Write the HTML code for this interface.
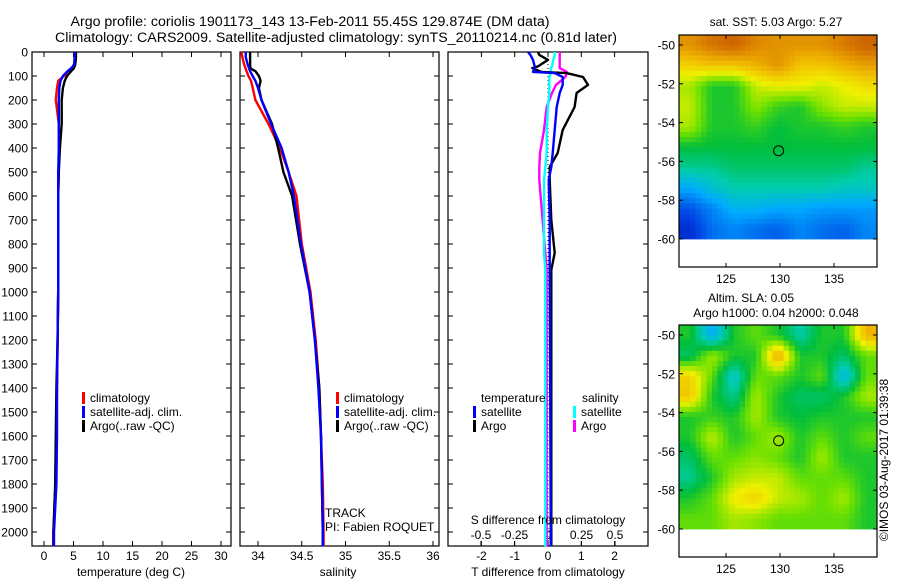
<!DOCTYPE html>
<html><head><meta charset="utf-8"><style>
html,body{margin:0;padding:0;background:#fff;}
svg{display:block;font-family:"Liberation Sans",sans-serif;}
</style></head><body>
<svg id="chart" width="900" height="580" viewBox="0 0 900 580" xmlns="http://www.w3.org/2000/svg">
<rect width="900" height="580" fill="#fff"/>
<text x="310" y="26" font-size="14.2" text-anchor="middle">Argo profile: coriolis 1901173_143 13-Feb-2011 55.45S 129.874E (DM data)</text>
<text x="336" y="42" font-size="14.2" text-anchor="middle">Climatology: CARS2009. Satellite-adjusted climatology: synTS_20110214.nc (0.81d later)</text>
<g id="g"></g>
</svg>
<script>
// ---------- data ----------
const depths = [0,20,50,60,70,80,100,120,150,200,300,400,500,600,800,1000,1200,1400,1600,1800,2000,2060];
const tempClim  = [5.4,5.4,5.3,5.0,4.6,4.0,3.4,2.4,2.2,2.0,2.5,2.5,2.5,2.4,2.4,2.4,2.3,2.2,2.1,2.0,1.6,1.6];
const tempSat   = [5.2,5.2,5.1,4.9,4.5,4.0,3.2,2.8,2.6,2.5,2.5,2.5,2.4,2.4,2.4,2.4,2.3,2.2,2.2,2.1,1.7,1.7];
const tempArgo  = [5.4,5.4,5.3,5.2,5.0,4.6,3.9,3.5,3.2,3.0,3.0,2.7,2.5,2.4,2.4,2.4,2.3,2.1,2.0,1.9,1.6,1.6];
const salClim   = [33.81,33.82,33.84,33.85,33.86,33.87,33.89,33.92,33.94,33.97,34.12,34.25,34.35,34.44,34.50,34.60,34.66,34.70,34.72,34.74,34.75,34.75];
const salSat    = [33.86,33.86,33.88,33.89,33.90,33.91,33.94,33.97,34.00,34.04,34.15,34.27,34.35,34.41,34.49,34.59,34.65,34.69,34.72,34.73,34.74,34.74];
const salArgo   = [33.91,33.91,33.91,33.91,33.92,33.97,34.01,34.03,34.01,34.04,34.16,34.23,34.29,34.39,34.48,34.59,34.65,34.70,34.72,34.73,34.74,34.74];
const dDepths   = [0,12,33,60,67,83,88,104,137,171,229,325,421,479,533,700,837,908,1200,1500,2000,2060];
const dTSat     = [-0.6,-0.53,-0.45,-0.4,-0.4,-0.45,0.2,0.44,0.44,0.35,0.26,0.2,0.14,0.1,0.02,0.05,0.05,0.05,0.06,0.07,0.08,0.08];
const dTArgo    = [-0.3,-0.26,0.0,-0.3,-0.47,-0.2,0.56,1.05,1.2,0.86,0.8,0.44,0.29,0.05,0.05,0.1,0.2,0.1,0.1,0.1,0.1,0.1];
const dSSat     = [0.05,0.05,0.04,0.03,0.02,0.02,0.02,0.01,0.01,0.01,0.0,-0.01,-0.01,-0.02,-0.03,-0.03,-0.03,-0.02,-0.02,-0.02,-0.02,-0.02];
const dSArgo    = [0.09,0.087,0.087,0.087,0.087,0.14,0.14,0.13,0.06,0.03,-0.01,-0.03,-0.06,-0.065,-0.065,-0.04,-0.02,-0.01,-0.01,-0.01,-0.01,-0.01];
const depthTicks = [0,100,200,300,400,500,600,700,800,900,1000,1100,1200,1300,1400,1500,1600,1700,1800,1900,2000];
const tempTicks = [0,5,10,15,20,25,30];
const salTicks = [34,34.5,35,35.5,36];
const salTickLabels = ["34","34.5","35","35.5","36"];
const dTTicks = [-2,-1,0,1,2];
const dSTicks = [-0.5,-0.25,0,0.25,0.5];
const dSTickLabels = ["-0.5","-0.25","0","0.25","0.5"];
const mapLats = [-50,-51,-52,-53,-54,-55,-56,-57,-58,-59];
const mapLons = [121,123,125,127,129,131,133,135,137];
const sstGrid = [
[0.80,0.85,0.88,0.82,0.80,0.80,0.80,0.84,0.88],
[0.70,0.72,0.72,0.75,0.80,0.72,0.72,0.75,0.78],
[0.60,0.50,0.50,0.62,0.65,0.65,0.62,0.65,0.68],
[0.62,0.50,0.50,0.58,0.52,0.50,0.58,0.62,0.62],
[0.60,0.50,0.50,0.52,0.48,0.50,0.50,0.52,0.50],
[0.48,0.48,0.48,0.48,0.48,0.48,0.48,0.48,0.48],
[0.42,0.42,0.45,0.45,0.45,0.45,0.45,0.45,0.42],
[0.30,0.36,0.40,0.40,0.40,0.40,0.40,0.38,0.38],
[0.18,0.25,0.32,0.32,0.30,0.30,0.28,0.28,0.28],
[0.12,0.22,0.25,0.22,0.20,0.25,0.22,0.20,0.25]];
const slaGrid = [
[0.50,0.30,0.50,0.55,0.50,0.40,0.50,0.50,0.75],
[0.45,0.60,0.50,0.50,0.78,0.50,0.50,0.45,0.55],
[0.70,0.55,0.36,0.55,0.55,0.50,0.55,0.32,0.55],
[0.72,0.50,0.42,0.60,0.50,0.45,0.45,0.50,0.60],
[0.50,0.52,0.50,0.60,0.50,0.48,0.50,0.50,0.50],
[0.50,0.62,0.50,0.55,0.60,0.50,0.55,0.50,0.55],
[0.45,0.55,0.55,0.58,0.55,0.50,0.60,0.50,0.50],
[0.42,0.50,0.60,0.62,0.62,0.55,0.55,0.55,0.50],
[0.50,0.55,0.66,0.70,0.62,0.60,0.55,0.60,0.50],
[0.55,0.55,0.60,0.58,0.55,0.55,0.55,0.55,0.50]];
const mapTicksLat = [-50,-52,-54,-56,-58,-60];
const mapTicksLon = [125,130,135];
const argoPos = [129.874,-55.45];

// ---------- helpers ----------
const NS="http://www.w3.org/2000/svg";
const G=document.getElementById('g');
function mk(tag,attrs,parent){const e=document.createElementNS(NS,tag);for(const k in attrs)e.setAttribute(k,attrs[k]);(parent||G).appendChild(e);return e;}
function txt(s,x,y,anchor,size,parent){const t=mk('text',{x:x,y:y,'font-size':size||12,'text-anchor':anchor||'start'},parent);t.textContent=s;return t;}
const TOP=52, BOT=546;
const yD = d => TOP + d*0.24;
function line(xs,ys,color,name,w){
  let p=''; for(let i=0;i<xs.length;i++){p+=(i?'L':'M')+xs[i].toFixed(1)+' '+ys[i].toFixed(1);}
  const e=mk('path',{d:p,fill:'none',stroke:color,'stroke-width':w||2.4,'stroke-linejoin':'round'});
  
  
  return e;
}
function frame(x0,x1,name){
  const r=mk('rect',{x:x0,y:TOP,width:x1-x0,height:BOT-TOP,fill:'none',stroke:'#000','stroke-width':1.2});
  
  
  depthTicks.forEach(d=>{mk('line',{x1:x0,x2:x0+5,y1:yD(d),y2:yD(d),stroke:'#000'});mk('line',{x1:x1,x2:x1-5,y1:yD(d),y2:yD(d),stroke:'#000'});});
}
function xticks(vals,labels,fx,x0,x1,top){
  vals.forEach((v,i)=>{const x=fx(v);mk('line',{x1:x,x2:x,y1:BOT,y2:BOT-5,stroke:'#000'});if(top)mk('line',{x1:x,x2:x,y1:TOP,y2:TOP+5,stroke:'#000'});
    const t=txt(labels[i],x,560,'middle',12);});
}
depthTicks.forEach(d=>{const t=txt(String(d),28,yD(d)+4.5,'end',12);
  
  });

// ---------- panel 1: temperature ----------
const xT = v => 44 + v*5.9;
frame(32,231,'temperature-panel');
xticks(tempTicks,tempTicks.map(String),xT,32,231,true);
const ydep = depths.map(yD);
line(depths.map((d,i)=>xT(tempClim[i])),ydep,'#f00','temp-climatology-line');
line(depths.map((d,i)=>xT(tempArgo[i])),ydep,'#000','temp-argo-line');
line(depths.map((d,i)=>xT(tempSat[i])),ydep,'#00f','temp-satellite-line');
txt('temperature (deg C)',131,576,'middle',12);
function legend(x,y,color,label,name){
  const r=mk('rect',{x:x,y:y-10,width:3,height:12,fill:color});
  
  
  const t=txt(label,x+8,y,'start',12);
  
  
}
legend(82,402,'#f00','climatology','legend-climatology');
legend(82,416,'#00f','satellite-adj. clim.','legend-satellite-adj');
legend(82,430,'#000','Argo(..raw -QC)','legend-argo');

// ---------- panel 2: salinity ----------
const xS = v => 258 + (v-34)*87.5;
frame(240,439,'salinity-panel');
xticks(salTicks,salTickLabels,xS,240,439,true);
line(depths.map((d,i)=>xS(salClim[i])),ydep,'#f00','sal-climatology-line');
line(depths.map((d,i)=>xS(salArgo[i])),ydep,'#000','sal-argo-line');
line(depths.map((d,i)=>xS(salSat[i])),ydep,'#00f','sal-satellite-line');
txt('salinity',338,576,'middle',12);
legend(336,402,'#f00','climatology','legend2-climatology');
legend(336,416,'#00f','satellite-adj. clim.','legend2-satellite-adj');
legend(336,430,'#000','Argo(..raw -QC)','legend2-argo');
txt('TRACK',325,517,'start',12);
txt('PI: Fabien ROQUET',325,531,'start',12);

// ---------- panel 3: differences ----------
const xdT = v => 548 + v*33.3;
const xdS = v => 548 + v*134;
frame(448,648,'difference-panel');
xticks(dTTicks,dTTicks.map(String),xdT,448,648,true);
dSTicks.forEach((v,i)=>{const x=xdS(v);mk('line',{x1:x,x2:x,y1:BOT,y2:BOT-5,stroke:'#000'});
  const t=txt(dSTickLabels[i],x,539,'middle',12);});
mk('line',{x1:xdT(0),x2:xdT(0),y1:TOP,y2:BOT,stroke:'#000','stroke-dasharray':'1 3'});
const ydd = dDepths.map(yD);
line(dDepths.map((d,i)=>xdS(dSArgo[i])),ydd,'#f0f','s-diff-argo-line');
line(dDepths.map((d,i)=>xdS(dSSat[i])),ydd,'#0ff','s-diff-satellite-line');
line(dDepths.map((d,i)=>xdT(dTArgo[i])),ydd,'#000','t-diff-argo-line');
line(dDepths.map((d,i)=>xdT(dTSat[i])),ydd,'#00f','t-diff-satellite-line');
txt('temperature',481,402,'start',12);
txt('salinity',582,402,'start',12);
legend(473,416,'#00f','satellite','legend-t-satellite');
legend(473,430,'#000','Argo','legend-t-argo');
legend(573,416,'#0ff','satellite','legend-s-satellite');
legend(573,430,'#f0f','Argo','legend-s-argo');
txt('S difference from climatology',548,524,'middle',12);
txt('T difference from climatology',548,576,'middle',12);

// ---------- maps ----------
const stops=[[0,[0,0,140]],[0.15,[0,60,225]],[0.3,[0,170,255]],[0.4,[0,205,175]],[0.48,[0,190,60]],[0.56,[110,225,0]],[0.65,[240,240,0]],[0.75,[240,180,0]],[0.86,[210,110,0]],[1,[170,40,0]]];
function cmap(v){for(let i=1;i<stops.length;i++){if(v<=stops[i][0]){const a=stops[i-1],b=stops[i],t=(v-a[0])/(b[0]-a[0]);
  return 'rgb('+a[1].map((c,k)=>Math.round(c+(b[1][k]-c)*t)).join(',')+')';}}return 'rgb(170,40,0)';}
function sample(grid,fr,fc){
  const R=grid.length-1,C=grid[0].length-1;
  fr=Math.max(0,Math.min(R,fr));fc=Math.max(0,Math.min(C,fc));
  const r0=Math.floor(fr),c0=Math.floor(fc),r1=Math.min(R,r0+1),c1=Math.min(C,c0+1),tr=fr-r0,tc=fc-c0;
  return grid[r0][c0]*(1-tr)*(1-tc)+grid[r0][c1]*(1-tr)*tc+grid[r1][c0]*tr*(1-tc)+grid[r1][c1]*tr*tc;
}
function map(y0,grid,name){
  const x0=679,x1=877,y1=y0+232;
  const lx = lon => 726 + (lon-125)*10.8;
  const ly = lat => y0+10 + (-50-lat)*19.4;
  const g=mk('g',{});
  
  
  const top=ly(-49.5), bot=ly(-60);
  const SUB=4;
  const nr=mapLats.length*SUB, nc=mapLons.length*SUB;
  const ch=(bot-top)/nr, cw=(x1-x0)/nc;
  for(let r=0;r<nr;r++){for(let c=0;c<nc;c++){
    const v=sample(grid,(r+0.5)/SUB-0.5,(c+0.5)/SUB-0.5);
    const cell=mk('rect',{x:(x0+c*cw).toFixed(2),y:(top+r*ch).toFixed(2),width:(cw+0.4).toFixed(2),height:(ch+0.4).toFixed(2),fill:cmap(v)},g);
    
    
  }}
  mk('rect',{x:x0,y:y0,width:x1-x0,height:y1-y0,fill:'none',stroke:'#000','stroke-width':1.2},g);
  mapTicksLat.forEach(l=>{const y=ly(l);mk('line',{x1:x0,x2:x0+4,y1:y,y2:y,stroke:'#000'},g);mk('line',{x1:x1,x2:x1-4,y1:y,y2:y,stroke:'#000'},g);
    const t=txt(String(l),x0-4,y+4.5,'end',12,g);});
  mapTicksLon.forEach(l=>{const x=lx(l);mk('line',{x1:x,x2:x,y1:y0,y2:y0+4,stroke:'#000'},g);mk('line',{x1:x,x2:x,y1:y1,y2:y1-4,stroke:'#000'},g);
    const t=txt(String(l),x,y1+16,'middle',12,g);});
  const c=mk('circle',{cx:lx(argoPos[0]),cy:ly(argoPos[1]),r:5,fill:'none',stroke:'#000','stroke-width':1},g);
  
  
}
map(35,sstGrid,'sst-map');
map(325,slaGrid,'sla-map');
txt('sat. SST: 5.03 Argo: 5.27',776,26,'middle',12);
txt('Altim. SLA: 0.05',751,302,'middle',12);
txt('Argo h1000: 0.04 h2000: 0.048',776,317,'middle',12);
const cr=txt('©IMOS 03-Aug-2017 01:39:38',0,0,'middle',12);
cr.setAttribute('transform','translate(888,460) rotate(-90)');


</script>
</body></html>
